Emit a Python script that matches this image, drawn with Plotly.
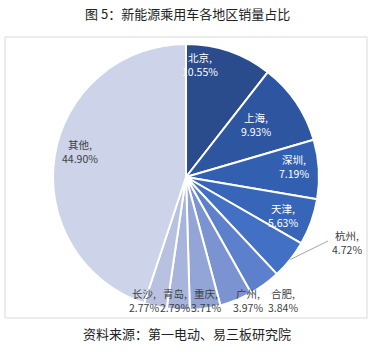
import math
import plotly.graph_objects as go

# ---- data ----
regions = ["北京", "上海", "深圳", "天津", "杭州", "合肥", "广州", "重庆", "青岛", "长沙", "其他"]
shares = [10.55, 9.93, 7.19, 5.63, 4.72, 3.84, 3.97, 3.71, 2.79, 2.77, 44.90]
colors = ["#2a4b8c", "#2e55a0", "#325fb0", "#3766b9", "#4170c5", "#5c80cc",
          "#7b93d0", "#93a5d6", "#a7b4dc", "#b8c2e0", "#cdd3e8"]
title_text = "图 5：新能源乘用车各地区销量占比"
source_text = "资料来源：第一电动、易三板研究院"

W, H = 374, 354
CX, CY, R = 186, 177, 133

fig = go.Figure(go.Pie(
    labels=regions, values=shares, sort=False, direction="clockwise", rotation=0,
    marker=dict(colors=colors, line=dict(color="white", width=2)),
    textinfo="none", hoverinfo="label+percent",
    domain=dict(x=[(CX - R) / W, (CX + R) / W], y=[1 - (CY + R) / H, 1 - (CY - R) / H]),
    showlegend=False,
))

# label placement (pixel centres) and colours
label_pos = {
    "北京": (200, 64, "white"),
    "上海": (256, 124, "white"),
    "深圳": (294, 166, "white"),
    "天津": (283, 215, "white"),
    "杭州": (347, 243, "#404040"),
    "合肥": (283, 300, "#404040"),
    "广州": (248, 300, "#404040"),
    "重庆": (206, 300, "#404040"),
    "青岛": (175, 300, "#404040"),
    "长沙": (144, 300, "#404040"),
    "其他": (80, 151, "#404040"),
}

def px(x, y):
    return x / W, 1 - y / H

annotations = []
for name, v in zip(regions, shares):
    x, y, c = label_pos[name]
    ax, ay = px(x, y)
    annotations.append(dict(
        x=ax, y=ay, xref="paper", yref="paper", showarrow=False,
        xanchor="center", yanchor="middle",
        text=f"{name},<br>{v:.2f}%", align="center",
        font=dict(family="Noto Sans CJK SC", size=10.5, color=c),
    ))

annotations.append(dict(x=0.5, y=1 - 14 / H, xref="paper", yref="paper", showarrow=False,
                        xanchor="center", yanchor="middle",
                        text=title_text, font=dict(family="Noto Sans CJK SC", size=13, color="#222222")))
annotations.append(dict(x=0.5, y=1 - 333 / H, xref="paper", yref="paper", showarrow=False,
                        xanchor="center", yanchor="middle",
                        text=source_text, font=dict(family="Noto Sans CJK SC", size=13, color="#222222")))

# leader line for 杭州 from slice edge (data-derived angle)
total = sum(shares)
cum = 0
shapes = []
for name, v in zip(regions, shares):
    mid = (cum + v / 2) / total * 2 * math.pi
    cum += v
    if name == "杭州":
        sx = CX + R * math.sin(mid)
        sy = CY - R * math.cos(mid)
        x0, y0 = px(sx, sy)
        x1, y1 = px(328, 241)
        shapes.append(dict(type="line", xref="paper", yref="paper", x0=x0, y0=y0, x1=x1, y1=y1,
                           line=dict(color="#a6a6a6", width=1)))

# frame
fx0, fy0 = px(5, 37)
fx1, fy1 = px(367, 318)
shapes.append(dict(type="rect", xref="paper", yref="paper", x0=fx0, y0=fy0, x1=fx1, y1=fy1,
                   line=dict(color="#d9d9d9", width=1), layer="below"))

fig.update_layout(
    width=W, height=H, margin=dict(l=0, r=0, t=0, b=0),
    paper_bgcolor="white", plot_bgcolor="white",
    annotations=annotations, shapes=shapes,
)

fig.write_html("out.html")
